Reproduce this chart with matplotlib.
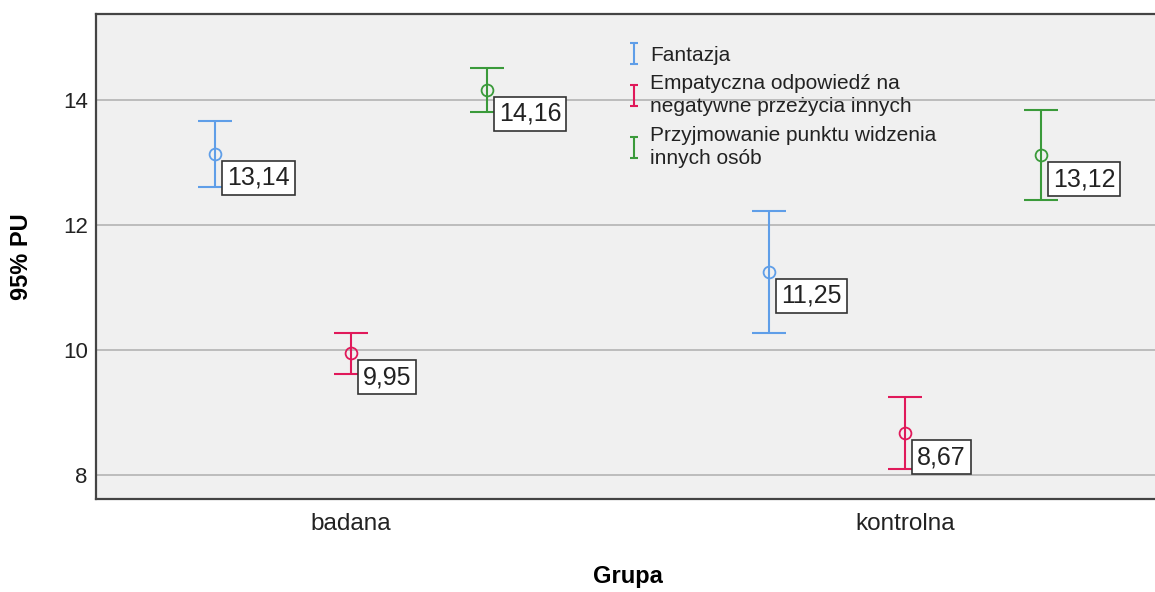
import matplotlib
matplotlib.use("Agg")
import numpy as np
import matplotlib.pyplot as plt

plt.rcParams["font.family"] = ["Liberation Sans", "DejaVu Sans"]

# Dane
grupy = ["badana", "kontrolna"]
serie = ["Fantazja",
         "Empatyczna odpowiedź na\nnegatywne przeżycia innych",
         "Przyjmowanie punktu widzenia\ninnych osób"]
srednie = [[13.14, 11.25], [9.95, 8.67], [14.16, 13.12]]
dolne = [[12.60, 10.27], [9.62, 8.10], [13.81, 12.40]]
gorne = [[13.67, 12.23], [10.28, 9.25], [14.51, 13.84]]
etykiety = [["13,14", "11,25"], ["9,95", "8,67"], ["14,16", "13,12"]]

kolory = ["#5f9ee8", "#e0195a", "#3a9a3a"]
przesuniecia = [-0.245, 0.0, 0.245]

fig = plt.figure(figsize=(11.55, 5.92), dpi=100)
ax = fig.add_axes([96 / 1155, 1 - 499 / 592, 1064 / 1155, 485 / 592])
ax.set_facecolor("#f0f0f0")

x = np.arange(len(grupy))
for i in range(len(serie)):
    m = np.array(srednie[i])
    lo = np.array(dolne[i])
    hi = np.array(gorne[i])
    xs = x + przesuniecia[i]
    ax.errorbar(xs, m, yerr=[m - lo, hi - m], fmt="none", ecolor=kolory[i],
                elinewidth=1.5, capsize=12, capthick=1.5, zorder=3)
    ax.plot(xs, m, "o", mfc="none", mec=kolory[i], mew=1.3, ms=8.5, zorder=4)
    # proxy do legendy
    ax.errorbar([np.nan], [np.nan], yerr=[1], fmt="none", ecolor=kolory[i],
                elinewidth=1.5, capsize=3, capthick=1.5, label=serie[i])
    for xi, yi, t in zip(xs, m, etykiety[i]):
        ax.annotate(t, xy=(xi, yi), xytext=(12, -12), textcoords="offset pixels",
                    ha="left", va="top", fontsize=18, color="#222222", zorder=5,
                    bbox=dict(boxstyle="square,pad=0.2", fc="white",
                              ec="#333333", lw=1.2))

ax.set_xlim(-0.46, 1.46)
ax.set_ylim(7.616, 15.376)
ax.set_yticks([8, 10, 12, 14])
ax.set_xticks(x)
ax.set_xticklabels(grupy)
ax.yaxis.grid(True, color="#b8b8b8", lw=1.3)
ax.set_axisbelow(True)
ax.tick_params(axis="both", length=0, colors="#222222")
ax.tick_params(axis="x", pad=10, labelsize=17.5)
ax.tick_params(axis="y", pad=6, labelsize=16)
for s in ["left", "bottom", "top"]:
    ax.spines[s].set_color("#444444")
    ax.spines[s].set_linewidth(1.6)
ax.spines["right"].set_visible(False)

ax.set_ylabel("95% PU", fontsize=17, fontweight="bold")
ax.set_xlabel("Grupa", fontsize=17, fontweight="bold")
ax.yaxis.set_label_coords(-0.059, 0.5)
ax.xaxis.set_label_coords(0.5, -0.136)

leg = ax.legend(loc="upper left", bbox_to_anchor=(0.5, 0.935), frameon=False,
                fontsize=15, handlelength=0.6, handletextpad=0.45,
                labelspacing=0.45, borderpad=0, borderaxespad=0,
                prop={"size": 15})
for t in leg.get_texts():
    t.set_color("#222222")
    t.set_linespacing(1.3)

fig.savefig("out.png", dpi=100)
